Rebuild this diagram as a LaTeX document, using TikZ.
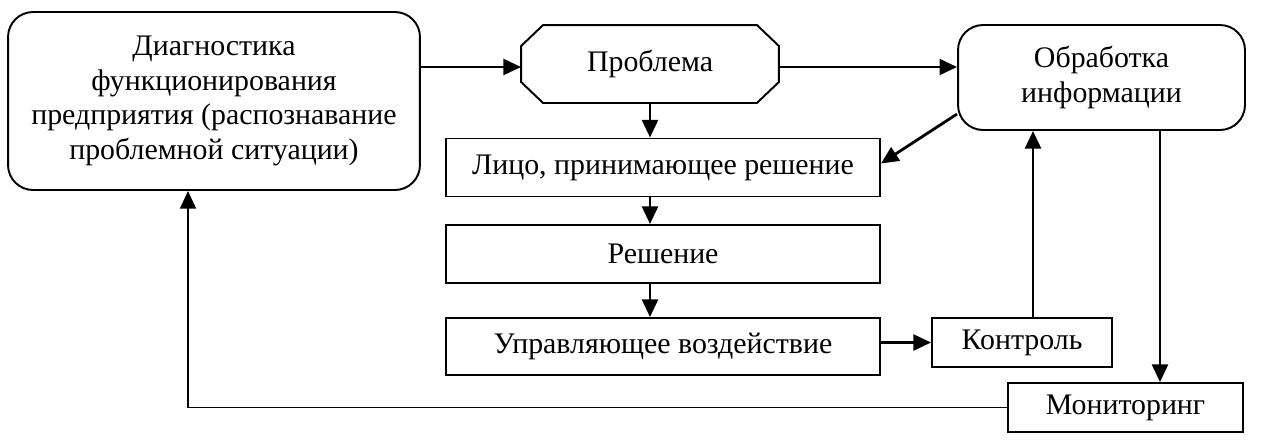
\documentclass[tikz,border=0pt]{standalone}
\usepackage{fontspec}
\setmainfont{Liberation Serif}
\usepackage{tikz}
\usetikzlibrary{calc,arrows.meta}

\begin{document}
\begin{tikzpicture}[x=0.02cm,y=-0.02cm,
    box/.style={draw, line width=1.1pt, align=center, inner sep=2pt,
      font=\fontsize{17}{19.8}\selectfont},
    rbox/.style={box, rounded corners=0.5cm},
    arr/.style={-{Triangle[length=10pt,width=9pt]}, line width=1.6pt}]
    \useasboundingbox (0,0) rectangle (1267,441);
    \node[rbox, minimum width=8.24cm, minimum height=3.56cm] (diag) at (214,101)
      {Диагностика\\функционирования\\предприятия (распознавание\\проблемной ситуации)};
    \node[box, draw=none, minimum width=5.12cm, minimum height=1.52cm] (probl) at (650,64) {Проблема};
    \draw[line width=1.1pt] ($(probl.north west)+(22,0)$) -- ($(probl.north east)+(-22,0)$)
      -- ($(probl.north east)+(0,21)$) -- ($(probl.south east)+(0,-21)$)
      -- ($(probl.south east)+(-22,0)$) -- ($(probl.south west)+(22,0)$)
      -- ($(probl.south west)+(0,-21)$) -- ($(probl.north west)+(0,21)$) -- cycle;
    \node[rbox, minimum width=5.74cm, minimum height=2.1cm] (obrab) at (1101.5,77.5)
      {Обработка\\информации};
    \node[box, minimum width=8.68cm, minimum height=1.16cm] (lpr) at (663,167.5)
      {Лицо, принимающее решение};
    \node[box, minimum width=8.68cm, minimum height=1.16cm] (resh) at (663,254) {Решение};
    \node[box, minimum width=8.68cm, minimum height=1.14cm] (upr) at (663,346.5)
      {Управляющее воздействие};
    \node[box, minimum width=3.6cm, minimum height=0.98cm] (kontr) at (1022,342.5) {Контроль};
    \node[box, minimum width=4.7cm, minimum height=0.98cm] (monit) at (1125.5,407.5) {Мониторинг};
    \draw[arr] (diag.east |- 0,67) -- (probl.west |- 0,67);
    \draw[arr] (probl.east |- 0,67) -- (obrab.west |- 0,67);
    \draw[arr] (probl.south) -- (probl.south |- lpr.north);
    \draw[arr] ([yshift=-0.73cm]obrab.west) -- ([yshift=0.08cm]lpr.east);
    \draw[arr] (lpr.south -| probl.south) -- (resh.north -| probl.south);
    \draw[arr] (resh.south -| probl.south) -- (upr.north -| probl.south);
    \draw[arr] (kontr.west -| upr.east) -- (kontr.west);
    \draw[arr] ([xshift=0.22cm]kontr.north) -- ([xshift=0.22cm]kontr.north |- obrab.south);
    \draw[arr] ([xshift=1.17cm]obrab.south) -- ([xshift=1.17cm]obrab.south |- monit.north);
    \draw[arr, line width=1.1pt] (monit.west) -- ([xshift=-0.52cm]diag.south |- monit.west)
      -- ([xshift=-0.52cm]diag.south);
  \end{tikzpicture}
\end{document}
